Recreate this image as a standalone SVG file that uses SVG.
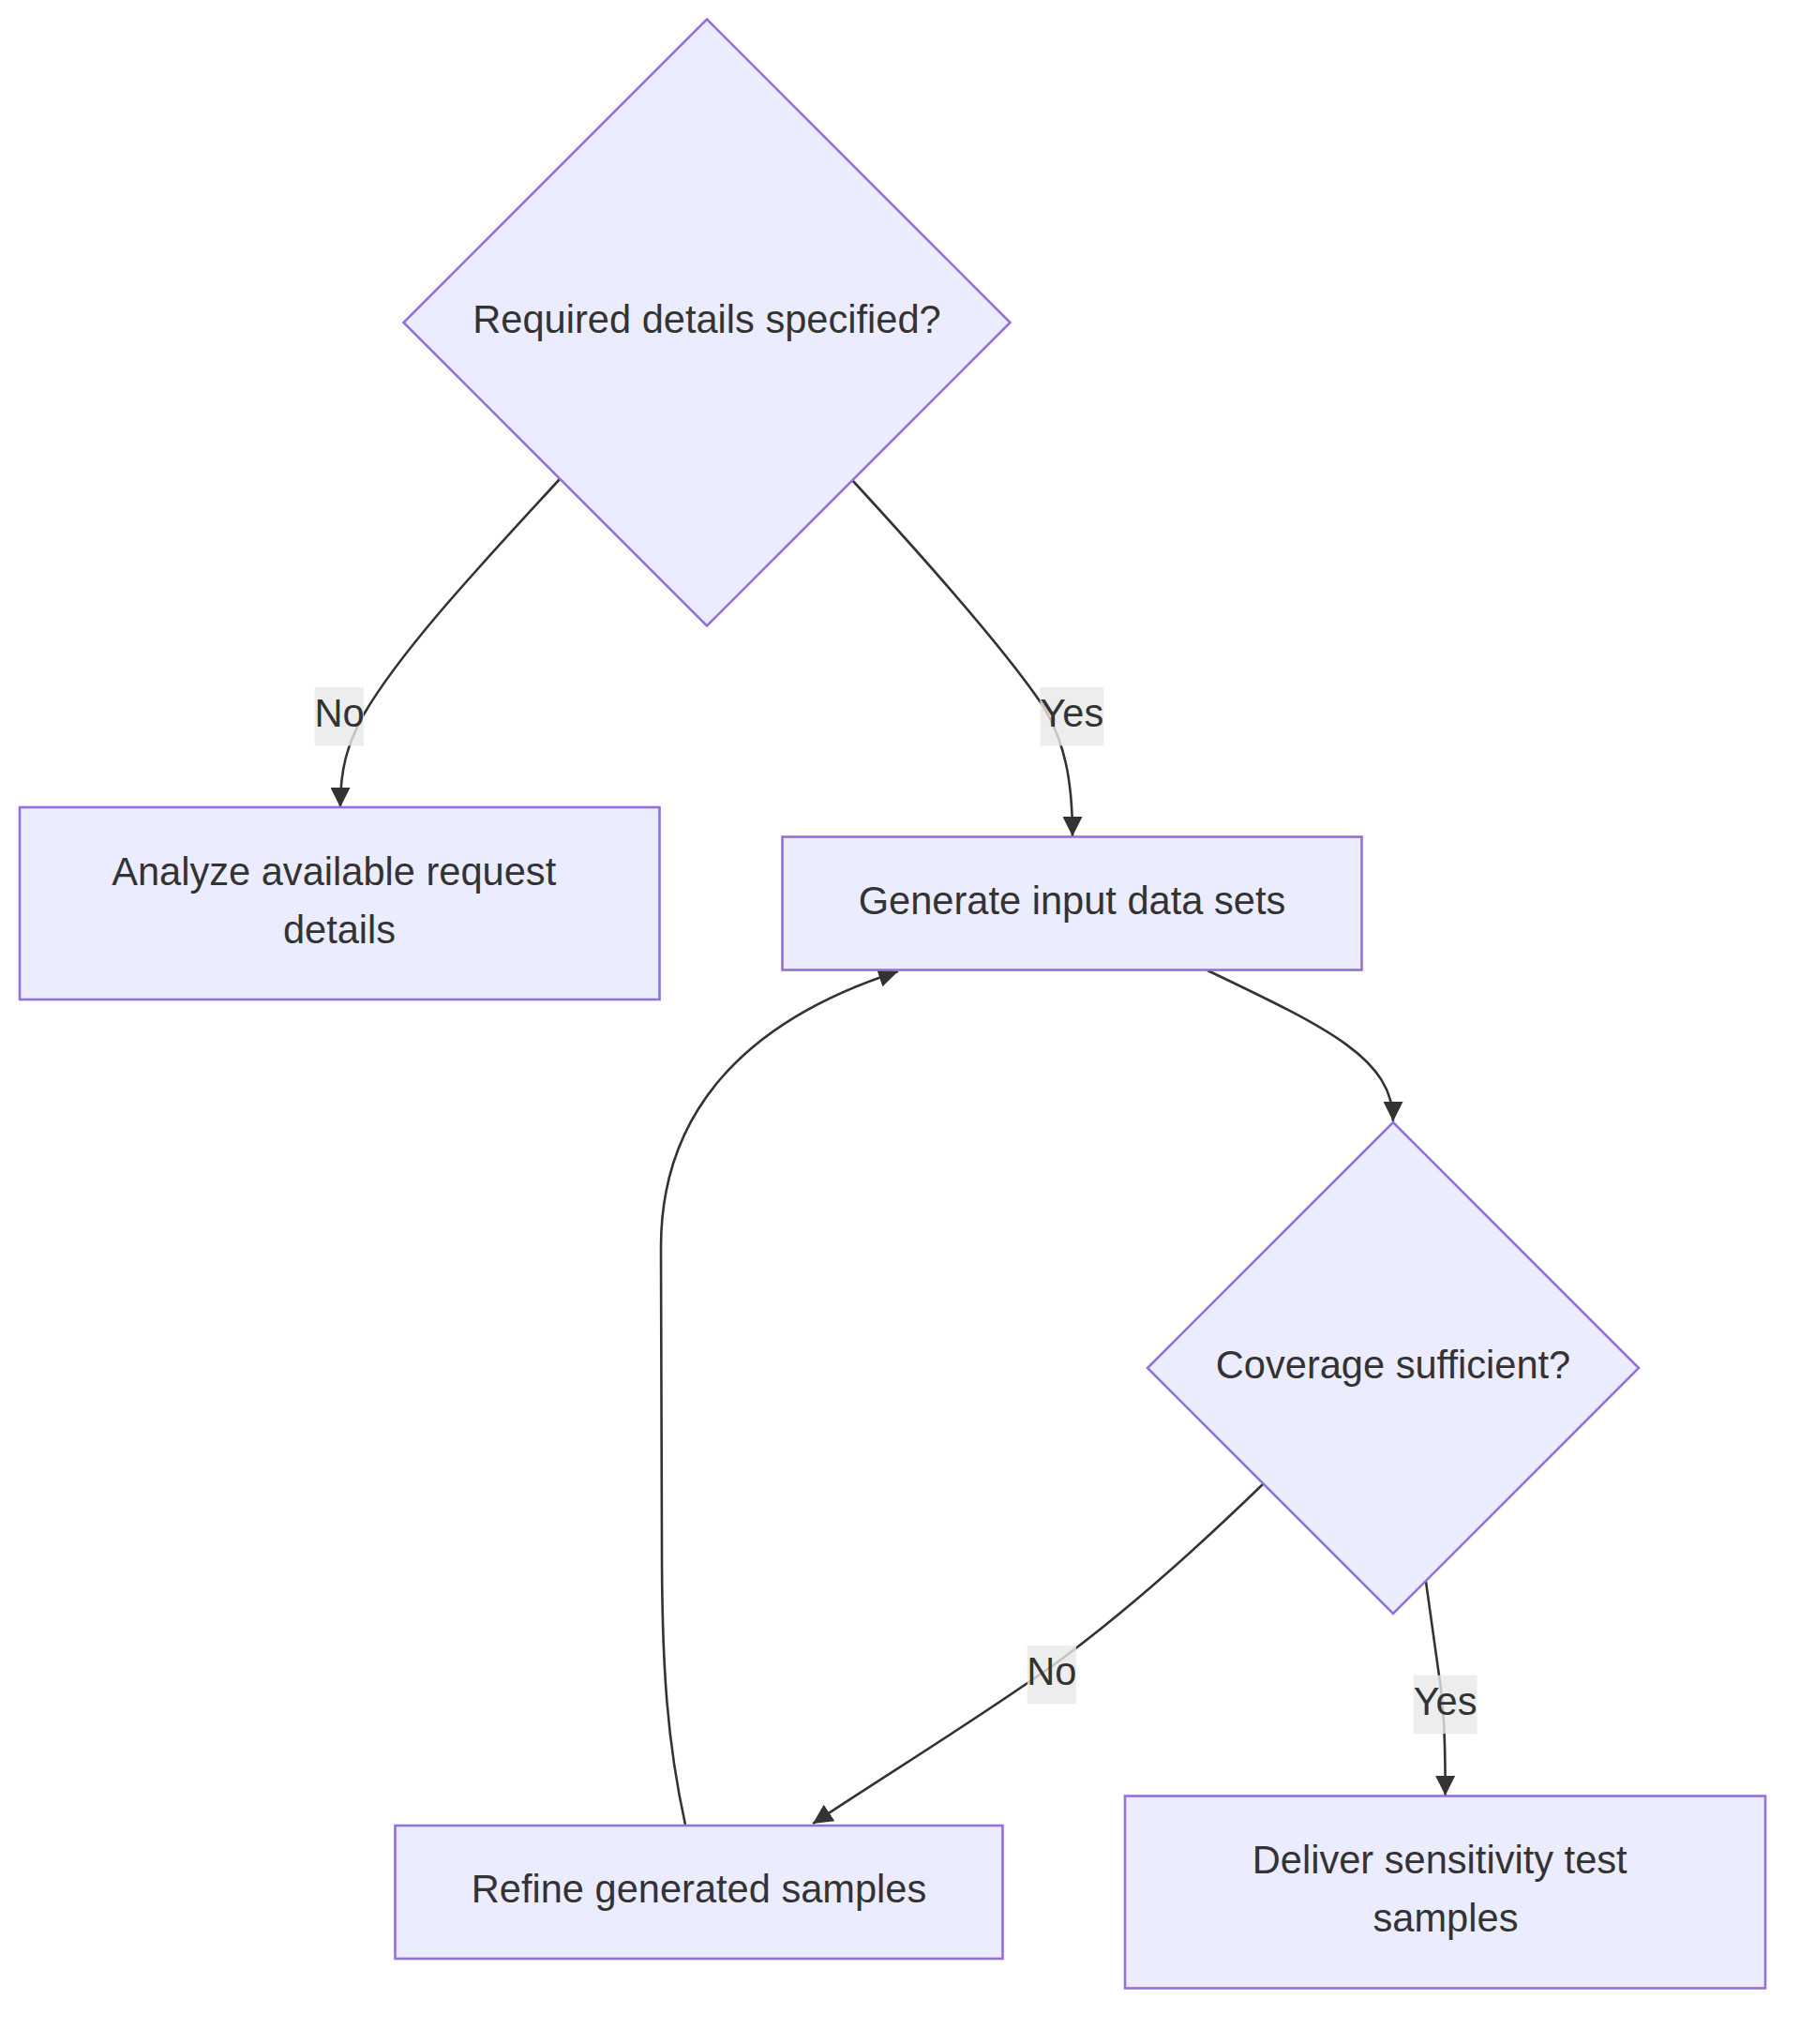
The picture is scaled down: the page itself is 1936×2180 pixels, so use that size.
<svg xmlns="http://www.w3.org/2000/svg" width="1936" height="2180" viewBox="0 0 1936 2180">
<style>
.node{fill:#ECECFF;stroke:#9370DB;stroke-width:2.6}
.edge{fill:none;stroke:#333333;stroke-width:2.6}
.t{font-family:"Liberation Sans",Arial,sans-serif;font-size:41.6px;fill:#333333;text-anchor:middle}
.lbl{fill:#e8e8e8;fill-opacity:0.8}
</style>
<defs>
<marker id="arrow" viewBox="0 0 10 10" refX="10" refY="5" markerUnits="userSpaceOnUse" markerWidth="21" markerHeight="21" orient="auto">
<path d="M0,0 L10,5 L0,10 z" fill="#333333"/>
</marker>
</defs>
<rect width="1936" height="2180" fill="#ffffff"/>
<g id="connectors">
<path class="edge" marker-end="url(#arrow)" d="M597,511 C520,595 430,690 388,762 C370,795 363,820 363,861"/>
<path class="edge" marker-end="url(#arrow)" d="M909,512 C990,600 1070,690 1112,752 C1135,790 1144,830 1144,892"/>
<path class="edge" marker-end="url(#arrow)" d="M1288,1035 C1420,1098 1486,1130 1486,1196"/>
<path class="edge" marker-end="url(#arrow)" d="M1347,1583 C1280,1648 1200,1720 1122,1777 C1040,1835 950,1890 867,1945"/>
<path class="edge" marker-end="url(#arrow)" d="M1521,1687 L1535,1787 C1540,1820 1541.5,1850 1541.7,1915"/>
<path class="edge" marker-end="url(#arrow)" d="M731,1946 C712,1860 706,1780 706,1650 L705,1330 C705,1190 790,1090 958,1036"/>
</g>
<g id="edge-labels">
<g id="label-no1"><rect class="lbl" x="335.6" y="733" width="52.4" height="62.4"/><text class="t" x="362" y="775">No</text></g>
<g id="label-yes1"><rect class="lbl" x="1109.4" y="733" width="67.8" height="62.4"/><text class="t" x="1143.3" y="775">Yes</text></g>
<g id="label-no2"><rect class="lbl" x="1095.7" y="1755" width="52.4" height="62.4"/><text class="t" x="1121.9" y="1797">No</text></g>
<g id="label-yes2"><rect class="lbl" x="1507.7" y="1786.7" width="67.8" height="62.4"/><text class="t" x="1541.6" y="1829">Yes</text></g>
</g>
<g id="node-required">
<polygon class="node" points="754,20.5 1077.5,344 754,667.5 430.5,344"/>
<text class="t" x="754" y="355">Required details specified?</text>
</g>
<g id="node-analyze">
<rect class="node" x="21" y="861" width="682.5" height="205"/>
<text class="t" x="356.2" y="943.5">Analyze available request</text>
<text class="t" x="362" y="1006">details</text>
</g>
<g id="node-generate">
<rect class="node" x="834.5" y="892.5" width="618" height="142"/>
<text class="t" x="1143.5" y="974.5">Generate input data sets</text>
</g>
<g id="node-coverage">
<polygon class="node" points="1486,1197 1748,1459 1486,1721 1224,1459"/>
<text class="t" x="1486" y="1470">Coverage sufficient?</text>
</g>
<g id="node-refine">
<rect class="node" x="421.5" y="1947" width="648" height="142"/>
<text class="t" x="745.5" y="2029">Refine generated samples</text>
</g>
<g id="node-deliver">
<rect class="node" x="1200" y="1915.5" width="683" height="205"/>
<text class="t" x="1535.7" y="1997.5">Deliver sensitivity test</text>
<text class="t" x="1542" y="2059.5">samples</text>
</g>
</svg>
